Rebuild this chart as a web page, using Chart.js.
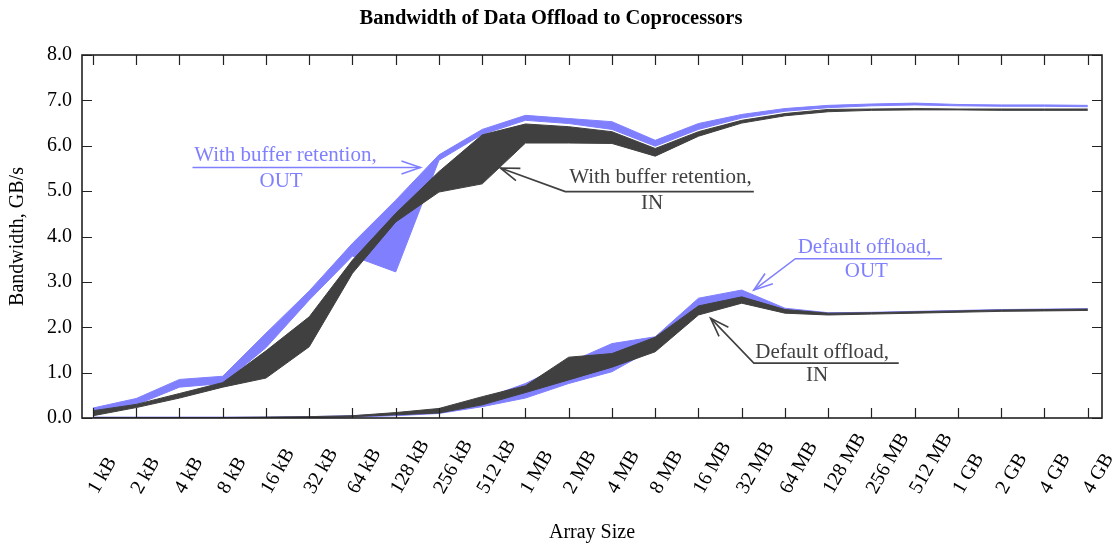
<!DOCTYPE html>
<html><head><meta charset="utf-8">
<script src="https://cdn.jsdelivr.net/npm/chart.js@4.4.1/dist/chart.umd.min.js"></script>
<style>html,body{margin:0;padding:0;background:#fff}#wrap{width:1112px;height:545px}</style>
</head><body><div id="wrap"><canvas id="c" width="1112" height="545"></canvas></div>
<script>
// ---------- data ----------
const categories = ['1 kB','2 kB','4 kB','8 kB','16 kB','32 kB','64 kB','128 kB','256 kB','512 kB',
  '1 MB','2 MB','4 MB','8 MB','16 MB','32 MB','64 MB','128 MB','256 MB','512 MB','1 GB','2 GB','4 GB','4 GB'];

const retentionOutMax = [0.22,0.43,0.85,0.92,1.87,2.80,3.85,4.80,5.80,6.36,6.67,6.60,6.53,6.12,6.49,6.69,6.82,6.89,6.92,6.94,6.91,6.90,6.90,6.89];
const retentionOutMin = [0.15,0.29,0.68,0.76,1.55,2.60,3.57,3.22,5.68,6.25,6.56,6.49,6.36,5.99,6.36,6.61,6.76,6.84,6.88,6.90,6.88,6.87,6.87,6.86];

const retentionInMax = [0.16,0.30,0.54,0.78,1.48,2.23,3.48,4.51,5.43,6.24,6.48,6.42,6.31,5.94,6.31,6.56,6.71,6.80,6.81,6.82,6.81,6.81,6.81,6.81];
const retentionInMin = [0.05,0.23,0.44,0.68,0.88,1.57,3.19,4.32,4.98,5.16,6.06,6.06,6.05,5.77,6.21,6.50,6.66,6.75,6.78,6.79,6.79,6.78,6.78,6.78];

const defaultOutMax = [0.02,0.02,0.02,0.02,0.02,0.03,0.05,0.10,0.16,0.42,0.76,1.22,1.64,1.79,2.64,2.82,2.42,2.32,2.33,2.35,2.37,2.39,2.40,2.41];
const defaultOutMin = [0.00,0.00,0.00,0.00,0.01,0.01,0.02,0.05,0.10,0.25,0.44,0.76,1.02,1.55,2.35,2.60,2.33,2.29,2.31,2.33,2.35,2.37,2.38,2.39];

const defaultInMax = [0.01,0.01,0.01,0.01,0.02,0.03,0.05,0.12,0.21,0.47,0.71,1.34,1.42,1.78,2.47,2.67,2.39,2.31,2.32,2.34,2.36,2.38,2.39,2.40];
const defaultInMin = [0.00,0.00,0.00,0.00,0.01,0.01,0.03,0.07,0.11,0.29,0.56,0.84,1.12,1.46,2.27,2.53,2.31,2.27,2.29,2.31,2.33,2.35,2.36,2.37];

const yTickValues = [0,1,2,3,4,5,6,7,8];

// ---------- style ----------
const FONT = "'Liberation Serif', 'Times New Roman', serif";
const BLUE = '#8080ff';
const DARK = '#404040';

// annotation callouts, in data coordinates (category index, GB/s)
const callouts = [
  {color: BLUE, path: [[2.30,5.52],[7.57,5.52]],
   texts: [['With buffer retention,',4.45,5.78],['OUT',4.35,5.21]]},
  {color: DARK, path: [[15.28,4.99],[10.92,4.99],[9.42,5.51]],
   texts: [['With buffer retention,',13.12,5.29],['IN',12.93,4.73]]},
  {color: BLUE, path: [[19.63,3.51],[16.24,3.51],[15.28,2.82]],
   texts: [['Default offload,',17.84,3.76],['OUT',17.88,3.24]]},
  {color: DARK, path: [[18.63,1.21],[15.28,1.21],[14.28,2.20]],
   texts: [['Default offload,',16.86,1.45],['IN',16.74,0.93]]}
];

function pts(arr){ return arr.map((v,i)=>({x:i,y:v})); }
function band(upper, lower, color, order){
  return [
    {data: pts(upper), borderColor: color, backgroundColor: color, borderWidth: 1, pointRadius: 0, tension: 0, fill: '+1', order: order},
    {data: pts(lower), borderColor: color, backgroundColor: color, borderWidth: 1, pointRadius: 0, tension: 0, fill: false, order: order}
  ];
}

const decorPlugin = {
  id: 'decor',
  afterDatasetsDraw(chart){
    const {ctx, chartArea: a, scales: {x, y}} = chart;
    ctx.save();
    // callouts
    callouts.forEach(c => {
      ctx.strokeStyle = c.color; ctx.fillStyle = c.color; ctx.lineWidth = 1.6;
      const p = c.path.map(([vx,vy]) => [x.getPixelForValue(vx), y.getPixelForValue(vy)]);
      ctx.beginPath(); ctx.moveTo(p[0][0], p[0][1]);
      for (let i=1;i<p.length;i++) ctx.lineTo(p[i][0], p[i][1]);
      ctx.stroke();
      const [tx,ty] = p[p.length-1], [fx,fy] = p[p.length-2];
      const ang = Math.atan2(ty-fy, tx-fx), L = 20, w = 0.33;
      ctx.beginPath();
      ctx.moveTo(tx - L*Math.cos(ang-w), ty - L*Math.sin(ang-w));
      ctx.lineTo(tx, ty);
      ctx.lineTo(tx - L*Math.cos(ang+w), ty - L*Math.sin(ang+w));
      ctx.stroke();
      ctx.font = '21px ' + FONT; ctx.textAlign = 'center'; ctx.textBaseline = 'middle';
      c.texts.forEach(([t,vx,vy]) => ctx.fillText(t, x.getPixelForValue(vx), y.getPixelForValue(vy)));
    });
    // tick marks (inward, on all four sides)
    ctx.strokeStyle = '#222'; ctx.lineWidth = 1.2;
    ctx.beginPath();
    x.ticks.forEach(t => {
      const px = Math.round(x.getPixelForValue(t.value)) + 0.5;
      ctx.moveTo(px, a.bottom); ctx.lineTo(px, a.bottom - 10);
      ctx.moveTo(px, a.top); ctx.lineTo(px, a.top + 10);
    });
    y.ticks.forEach(t => {
      const py = Math.round(y.getPixelForValue(t.value)) + 0.5;
      ctx.moveTo(a.left, py); ctx.lineTo(a.left + 10, py);
      ctx.moveTo(a.right, py); ctx.lineTo(a.right - 10, py);
    });
    ctx.stroke();
    // frame
    ctx.strokeStyle = '#222'; ctx.lineWidth = 1.6;
    ctx.strokeRect(a.left, a.top, a.right - a.left, a.bottom - a.top);
    // rotated x tick labels, start-anchored under each tick
    ctx.fillStyle = '#000'; ctx.font = '20px ' + FONT;
    ctx.textAlign = 'left'; ctx.textBaseline = 'middle';
    x.ticks.forEach(t => {
      const px = x.getPixelForValue(t.value);
      ctx.save();
      ctx.translate(px, 492);
      ctx.rotate(-Math.PI/3);
      ctx.fillText(categories[t.value], 0, 0);
      ctx.restore();
    });
    ctx.restore();
  }
};

new Chart(document.getElementById('c'), {
  type: 'line',
  data: {
    datasets: [
      ...band(retentionOutMax, retentionOutMin, BLUE, 2),
      ...band(retentionInMax, retentionInMin, DARK, 1),
      ...band(defaultOutMax, defaultOutMin, BLUE, 2),
      ...band(defaultInMax, defaultInMin, DARK, 1)
    ]
  },
  options: {
    responsive: false, animation: false, devicePixelRatio: 1,
    layout: {padding: {left: 0, right: 10, top: 0, bottom: 0}},
    plugins: {
      legend: {display: false}, tooltip: {enabled: false},
      title: {display: true, text: 'Bandwidth of Data Offload to Coprocessors', color: '#000',
        font: {family: FONT, size: 20.5, weight: 'bold'}, padding: {top: 6, bottom: 24.4}}
    },
    scales: {
      x: {
        type: 'linear', min: -0.254, max: 23.33,
        grid: {display: false, drawTicks: false}, border: {display: false},
        ticks: {display: false},
        afterBuildTicks: s => { s.ticks = categories.map((_, i) => ({value: i})); },
        afterFit: s => { s.height = 127; },
        title: {display: true, text: 'Array Size', color: '#000', font: {family: FONT, size: 20}, padding: {top: 0, bottom: 0}}
      },
      y: {
        min: 0, max: 8,
        grid: {display: false, drawTicks: false}, border: {display: false},
        afterBuildTicks: s => { s.ticks = yTickValues.map(v => ({value: v})); },
        ticks: {color: '#000', font: {family: FONT, size: 20}, padding: 10, callback: v => Number(v).toFixed(1)},
        afterFit: s => { s.width = 82; },
        title: {display: true, text: 'Bandwidth, GB/s', color: '#000', font: {family: FONT, size: 20}, padding: {top: 6, bottom: 0}}
      }
    }
  },
  plugins: [decorPlugin]
});
</script></body></html>
